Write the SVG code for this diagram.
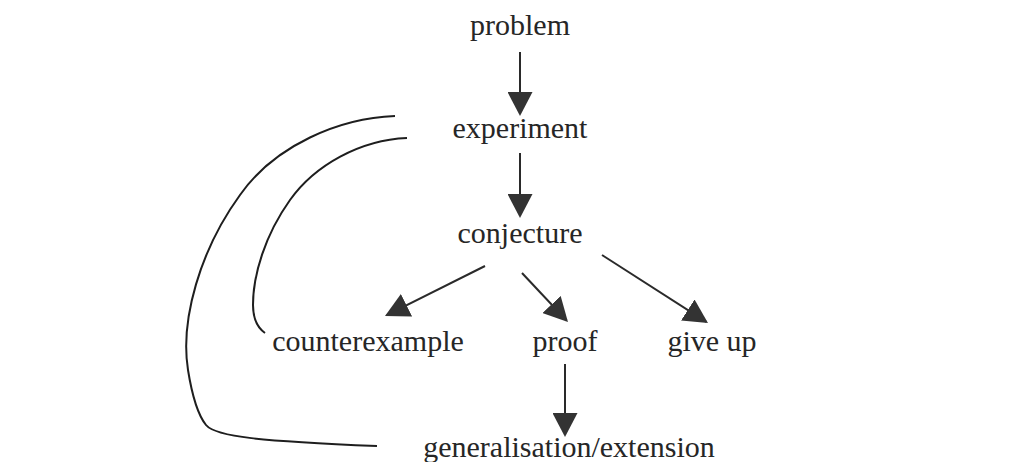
<svg xmlns="http://www.w3.org/2000/svg" width="1027" height="462" viewBox="0 0 1027 462">
  <style>
    .lbl { font-family: "Liberation Serif", "Times New Roman", serif; font-size: 30px; fill: #262626; text-anchor: middle; }
    .arrow { stroke: #2a2a2a; stroke-width: 2; fill: none; marker-end: url(#head); }
    .curve { stroke: #1e1e1e; stroke-width: 2; fill: none; }
  </style>
  <defs>
    <marker id="head" viewBox="0 0 24 25" markerWidth="24" markerHeight="25" refX="22" refY="12.5" orient="auto" markerUnits="userSpaceOnUse">
      <path d="M0,0 L24,12.5 L0,25 Z" fill="#333333"/>
    </marker>
  </defs>
  <rect width="1027" height="462" fill="#ffffff"/>

  <g id="connectors">
    <line class="arrow" x1="520" y1="52" x2="520" y2="114"/>
    <line class="arrow" x1="520" y1="153" x2="520" y2="216"/>
    <line class="arrow" x1="485" y1="266" x2="386.8" y2="315.1"/>
    <line class="arrow" x1="522" y1="273" x2="566.6" y2="320.5"/>
    <line class="arrow" x1="602" y1="255" x2="706.3" y2="321.9"/>
    <line class="arrow" x1="565" y1="364" x2="565" y2="435"/>
    <path class="curve" d="M395,116 C340,118 275,145 240,195 C200,250 180,320 188,370 C192,395 198,415 206,425 C216,437 260,441 377,446"/>
    <path class="curve" d="M407,138 C360,140 315,165 290,200 C265,235 253,275 253,305 C253,320 258,328 265,333"/>
  </g>

  <g id="problem"><text class="lbl" x="520" y="35">problem</text></g>
  <g id="experiment"><text class="lbl" x="520" y="138">experiment</text></g>
  <g id="conjecture"><text class="lbl" x="520" y="243">conjecture</text></g>
  <g id="counterexample"><text class="lbl" x="368" y="351">counterexample</text></g>
  <g id="proof"><text class="lbl" x="565" y="351">proof</text></g>
  <g id="giveup"><text class="lbl" x="712" y="351">give up</text></g>
  <g id="generalisation"><text class="lbl" x="569" y="457">generalisation/extension</text></g>
</svg>
